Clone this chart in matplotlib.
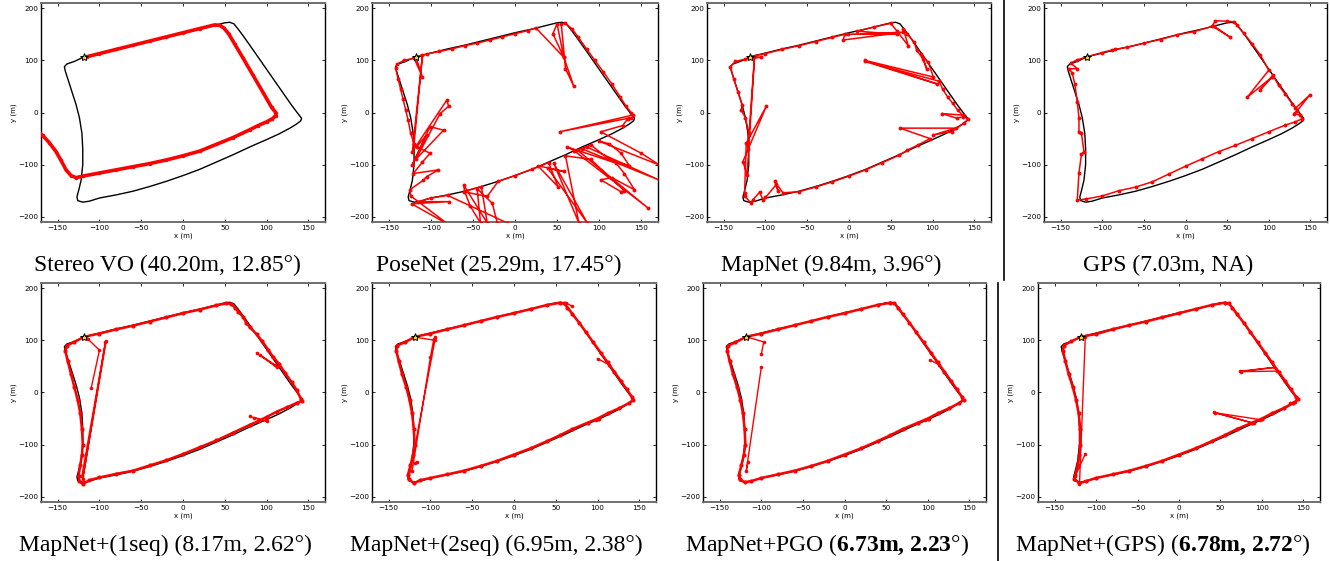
import numpy as np
import matplotlib
matplotlib.use("Agg")
import matplotlib.pyplot as plt
from matplotlib.lines import Line2D

plt.rcParams["mathtext.fontset"] = "custom"
plt.rcParams["mathtext.rm"] = "Liberation Serif"
plt.rcParams["mathtext.bf"] = "Liberation Serif:bold"
plt.rcParams["mathtext.it"] = "Liberation Serif:italic"

NA = float("nan")

# ground truth loop (m)
gt = [(-118, 107), (-100, 114), (-80, 122), (-60, 129), (-40, 137), (-20, 145), (0, 153),
      (20, 160), (40, 168), (50, 172), (56, 173), (61, 170), (66, 160), (72, 147), (80, 129),
      (90, 106), (100, 83), (110, 60), (120, 37), (130, 14), (138, -3), (142, -11), (141, -16),
      (136, -22), (128, -30), (115, -41), (100, -52), (80, -66), (60, -81), (40, -95), (20, -109),
      (0, -121), (-20, -132), (-40, -142), (-60, -151), (-80, -158), (-100, -164), (-112, -170),
      (-120, -172), (-126, -169), (-127, -162), (-125, -150), (-122, -130), (-120, -100),
      (-120, -70), (-121, -40), (-124, -10), (-128, 15), (-133, 40), (-138, 65), (-141, 80),
      (-142, 88), (-139, 93), (-130, 98), (-118, 107)]

start = (-118, 107)

stereo_vo = [(-115, 107), (-100, 113), (-80, 121), (-60, 129), (-40, 137), (-20, 145), (0, 153),
             (20, 161), (38, 168), (44, 167), (49, 162), (55, 150), (62, 131), (72, 104), (84, 71),
             (96, 38), (106, 10), (111, 0), (111, -6), (107, -12), (100, -18), (90, -25), (80, -33),
             (60, -48), (40, -61), (20, -74), (0, -83), (-20, -91), (-40, -98), (-60, -104),
             (-80, -110), (-100, -116), (-120, -122), (-128, -125), (-134, -121), (-140, -110),
             (-146, -92), (-152, -75), (-160, -58), (-168, -44), (-176, -34), (-185, -25)]

posenet = [(-118, 107), (-105, 112), (-90, 117), (-75, 122), (-60, 128), (-45, 133), (-30, 139),
           (-15, 145), (0, 151), (15, 157), (25, 162), (58, 106), (45, 151), (50, 170), (58, 106),
           (70, 50), (60, 84), (55, 170), (60, 171), (68, 160), (75, 145), (85, 122), (95, 100),
           (105, 78), (115, 55), (125, 30), (132, 12), (138, 0), (140, -5), (53, -37), (138, -10),
           (134, -12), (128, -25), (102, -37), (150, -78), (172, -101), (100, -55), (112, -60),
           (126, -78), (136, -102), (112, -90), (90, -62), (80, -70), (172, -130), (85, -66),
           (74, -72), (158, -183), (70, -73), (62, -66), (120, -97), (130, -117), (142, -148),
           (115, -125), (102, -129), (126, -152), (130, -150), (90, -90), (60, -83), (76, -212),
           (46, -97), (86, -212), (39, -107), (58, -113), (27, -102), (51, -142), (40, -96),
           (20, -109), (0, -121), (-20, -132), (-33, -161), (-61, -152), (-40, -142), (-33, -212),
           (-61, -139), (-60, -151), (-53, -180), (-41, -212), (-45, -146), (-27, -174),
           (-21, -212), (-9, -212), (-80, -159), (-100, -164), (-115, -171), (-79, -171),
           (-123, -175), (-79, -215), (-124, -160), (-125, -148), (-109, -130), (-105, -123),
           (-91, -110), (-121, -117), (-110, -95), (-101, -78), (-117, -66), (-105, -43),
           (-122, -100), (-101, -27), (-85, -34), (-118, -90), (-89, -2), (-79, 12), (-81, 24),
           (-122, -75), (-110, 110), (-120, -60), (-124, -40), (-127, -15), (-130, 5),
           (-133, 25), (-136, 45), (-139, 65), (-142, 85), (-140, 93), (-132, 100), (-120, 104),
           (-110, 68), (-118, 107)]

mapnet = [(-118, 107), (-100, 113), (-80, 121), (-60, 128), (-40, 136), (-20, 144), (-5, 150),
          (-7, 139), (65, 154), (-1, 150), (57, 150), (10, 156), (30, 164), (50, 171), (57, 157),
          (71, 128), (65, 160), (70, 150), (78, 135), (81, 119), (89, 103), (93, 84), (86, 112),
          (95, 96), (101, 68), (19, 100), (105, 55), (19, 98), (108, 60), (112, 45), (118, 30),
          (124, 18), (130, 5), (136, -5), (111, -2), (129, -11), (137, -8), (143, -12),
          (138, -20), (123, -37), (101, -43), (128, -30), (61, -30), (97, -50), (83, -62),
          (70, -72), (60, -82), (40, -96), (20, -110), (0, -122), (-20, -133), (-40, -143),
          (-60, -152), (-79, -154), (-89, -132), (-85, -150), (-87, -138), (-100, -163),
          (-103, -167), (-107, -153), (-115, -167), (-117, -174), (-125, -160), (-125, -154),
          (-123, -59), (-99, 12), (-127, -94), (-122, -120), (-113, 109), (-121, -70),
          (-120, -40), (-124, -10), (-129, 4), (-128, 15), (-133, 40), (-138, 65), (-142, 88),
          (-136, 98), (-125, 102), (-105, 106), (-118, 107)]

gps = [(-118, 107), (-100, 115), (-88, 120), (-85, 121), (-70, 125), (-50, 133), (-30, 140),
       (-10, 149), (10, 155), (34, 166), (54, 144), (32, 166), (36, 176), (50, 175), (58, 174),
       (62, 167), (70, 152), (80, 132), (90, 110), (100, 81), (74, 29), (104, 68), (90, 44),
       (105, 71), (112, 52), (120, 35), (128, 17), (132, 8), (149, 33), (134, 3), (130, -2),
       (138, -5), (140, -12), (132, -18), (120, -24), (100, -37), (80, -50), (60, -63),
       (40, -75), (20, -89), (0, -103), (-20, -118), (-40, -133), (-60, -143), (-80, -150),
       (-100, -160), (-120, -166), (-130, -168), (-128, -116), (-125, -80), (-122, -75),
       (-125, -40), (-128, -37), (-128, -10), (-130, 20), (-133, 55), (-136, 75), (-140, 84),
       (-130, 84), (-138, 95), (-130, 101), (-118, 107)]

mapnet_1seq = [(-118, 107), (-100, 113), (-80, 121), (-60, 128), (-40, 136), (-20, 144),
               (0, 152), (20, 159), (40, 167), (52, 171), (58, 170), (62, 163), (66, 155),
               (72, 145), (76, 133), (80, 125), (88, 112), (95, 98), (102, 82), (108, 68),
               (115, 55), (122, 38), (130, 20), (136, 5), (141, -12), (143, -16), (136, -20),
               (125, -28), (112, -37), (100, -47), (90, -55), (80, -62), (60, -77), (40, -92),
               (20, -105), (0, -118), (-20, -130), (-40, -140), (-60, -150), (-80, -156),
               (-100, -163), (-112, -168), (-120, -176), (-124, -170), (-125, -160),
               (-123, -140), (-121, -120), (-120, -100), (-121, -70), (-123, -40), (-126, -15),
               (-130, 10), (-134, 35), (-138, 60), (-141, 80), (-139, 90), (-130, 97),
               (-118, 107),
               (NA, NA), (-114, 103), (-100, 81), (-110, 8),
               (NA, NA), (-92, 98), (-120, -166), (-93, 96), (-121, -160),
               (NA, NA), (88, 76), (112, 49), (92, 72), (110, 53),
               (NA, NA), (80, -46), (100, -55), (85, -48)]

mapnet_2seq = [(-118, 107), (-100, 113), (-80, 121), (-60, 129), (-40, 137), (-20, 145),
               (0, 152), (20, 160), (40, 168), (55, 172), (60, 171), (64, 163), (70, 150),
               (78, 134), (86, 116), (95, 96), (104, 76), (112, 58), (120, 40), (128, 22),
               (135, 6), (141, -8), (143, -14), (138, -20), (126, -30), (112, -40), (100, -50),
               (88, -58), (70, -70), (55, -82), (40, -93), (20, -107), (0, -119), (-20, -131),
               (-40, -141), (-60, -150), (-80, -157), (-100, -164), (-112, -168), (-120, -174),
               (-126, -166), (-127, -158), (-124, -140), (-121, -120), (-119, -100),
               (-120, -70), (-122, -40), (-125, -15), (-129, 10), (-134, 35), (-138, 60),
               (-141, 80), (-140, 90), (-131, 96), (-118, 107),
               (NA, NA), (-94, 106), (-126, -166),
               (NA, NA), (-96, 103), (-100, 68), (-122, -150),
               (NA, NA), (-118, 106), (-94, 100),
               (NA, NA), (100, 65), (114, 53),
               (NA, NA), (62, 172), (70, 165),
               (NA, NA), (98, -52), (102, -50),
               (NA, NA), (-116, -134), (-118, -136)]

mapnet_pgo = [(-118, 107), (-100, 113), (-80, 121), (-60, 129), (-40, 137), (-20, 145),
              (0, 152), (20, 160), (40, 168), (55, 172), (60, 171), (64, 163), (70, 150),
              (78, 134), (86, 116), (95, 96), (104, 76), (112, 58), (120, 40), (128, 22),
              (135, 6), (141, -8), (143, -14), (138, -20), (126, -30), (112, -40), (100, -50),
              (88, -58), (70, -70), (55, -82), (40, -93), (20, -107), (0, -119), (-20, -131),
              (-40, -141), (-60, -150), (-80, -157), (-100, -164), (-112, -170), (-120, -172),
              (-126, -166), (-127, -158), (-124, -140), (-121, -120), (-119, -100),
              (-120, -70), (-122, -40), (-125, -15), (-129, 10), (-134, 35), (-138, 60),
              (-141, 80), (-140, 90), (-131, 96), (-118, 107),
              (NA, NA), (-116, 106), (-97, 97), (-100, 73),
              (NA, NA), (-100, 48), (-118, -150), (-116, -134),
              (NA, NA), (103, 62), (114, 53),
              (NA, NA), (97, -52), (102, -50)]

mapnet_gps = [(-118, 107), (-100, 112), (-80, 121), (-60, 129), (-40, 136), (-20, 144),
              (0, 152), (20, 160), (40, 168), (55, 172), (60, 171), (64, 163), (70, 150),
              (78, 134), (86, 116), (95, 96), (104, 76), (112, 58), (120, 40), (128, 22),
              (135, 6), (141, -8), (144, -13), (138, -20), (126, -30), (112, -40), (100, -50),
              (88, -58), (70, -70), (55, -82), (40, -93), (20, -107), (0, -119), (-20, -131),
              (-40, -141), (-60, -150), (-80, -157), (-100, -164), (-112, -170), (-120, -174),
              (-126, -166), (-125, -158), (-122, -140), (-120, -120), (-119, -100),
              (-119, -70), (-121, -40), (-124, -15), (-128, 10), (-133, 35), (-137, 60),
              (-140, 80), (-139, 90), (-130, 98), (-118, 107),
              (NA, NA), (-113, 106), (-120, -176),
              (NA, NA), (-113, -118), (-125, -160),
              (NA, NA), (74, 41), (114, 48), (75, 40), (118, 41),
              (NA, NA), (42, -38), (90, -59), (44, -39), (98, -52),
              (NA, NA), (134, -20), (140, -18)]

predictions = [stereo_vo, posenet, mapnet, gps, mapnet_1seq, mapnet_2seq, mapnet_pgo, mapnet_gps]

captions = ["Stereo VO (40.20m, 12.85°)",
            "PoseNet (25.29m, 17.45°)",
            "MapNet (9.84m, 3.96°)",
            "GPS (7.03m, NA)",
            "MapNet+(1seq) (8.17m, 2.62°)",
            "MapNet+(2seq) (6.95m, 2.38°)",
            r"MapNet+PGO ($\mathbf{6.73m{,}\ 2.23}$°)",
            r"MapNet+(GPS) ($\mathbf{6.78m{,}\ 2.72}$°)"]

x_ticks = [-150, -100, -50, 0, 50, 100, 150]
y_ticks = [-200, -100, 0, 100, 200]

W, H = 1330, 561
fig = plt.figure(figsize=(W / 100, H / 100), dpi=100)

# axes boxes in pixels: left, top, right, bottom
boxes = [(41, 3, 325, 222), (372, 3, 658, 222), (707, 3, 991, 222), (1044, 3, 1327, 222),
         (41, 283, 325, 502), (372, 283, 656, 502), (703, 283, 986, 502), (1038, 283, 1320, 502)]
cap_pos = [(167, 265), (499, 265), (831, 265), (1168, 265),
           (165, 545), (496, 545), (827, 545), (1163, 545)]

gt_arr = np.array(gt, dtype=float)

for i, (pred, cap) in enumerate(zip(predictions, captions)):
    l, t, r, b = boxes[i]
    ax = fig.add_axes([l / W, 1 - b / H, (r - l) / W, (b - t) / H])
    p = np.array(pred, dtype=float)
    ax.plot(gt_arr[:, 0], gt_arr[:, 1], color="black", lw=1.0, zorder=2)
    if i == 0:
        ax.plot(p[:, 0], p[:, 1], color="red", lw=2.6, marker="o", ms=2.5, mew=0, zorder=3)
    elif np.isnan(p[:, 0]).any():
        k = int(np.argmax(np.isnan(p[:, 0])))
        ax.plot(p[:k, 0], p[:k, 1], color="red", lw=1.8, marker="o", ms=3, mew=0, zorder=3)
        ax.plot(p[k:, 0], p[k:, 1], color="red", lw=1.0, marker="o", ms=2.6, mew=0, zorder=3)
    else:
        ax.plot(p[:, 0], p[:, 1], color="red", lw=1.1, marker="o", ms=2.8, mew=0, zorder=3)
    ax.plot([start[0]], [start[1]], marker="*", ms=6, mfc="#e8e000", mec="black", mew=0.7,
            zorder=4)
    ax.set_xlim(-170, 170)
    ax.set_ylim(-210, 210)
    ax.set_xticks(x_ticks)
    ax.set_yticks(y_ticks)
    ax.tick_params(direction="in", top=True, right=True, length=2.5, width=0.6,
                   labelsize=5.2, pad=2)
    ax.set_xlabel("x (m)", fontsize=5, labelpad=1)
    ax.set_ylabel("y (m)", fontsize=5, labelpad=1)
    for s in ["top", "bottom"]:
        ax.spines[s].set_color("#6e6e6e")
        ax.spines[s].set_linewidth(1.4)
    for s in ["left", "right"]:
        ax.spines[s].set_color("black")
        ax.spines[s].set_linewidth(1.0)
    cx, cy = cap_pos[i]
    fig.text(cx / W, 1 - cy / H, cap, ha="center", va="center",
             family="Liberation Serif", fontsize=17)

fig.add_artist(Line2D([1004 / W, 1004 / W], [1, 1 - 280 / H], color="black", lw=1.2))
fig.add_artist(Line2D([998 / W, 998 / W], [1 - 283 / H, 0], color="black", lw=1.2))

fig.savefig("out.png", dpi=100)
